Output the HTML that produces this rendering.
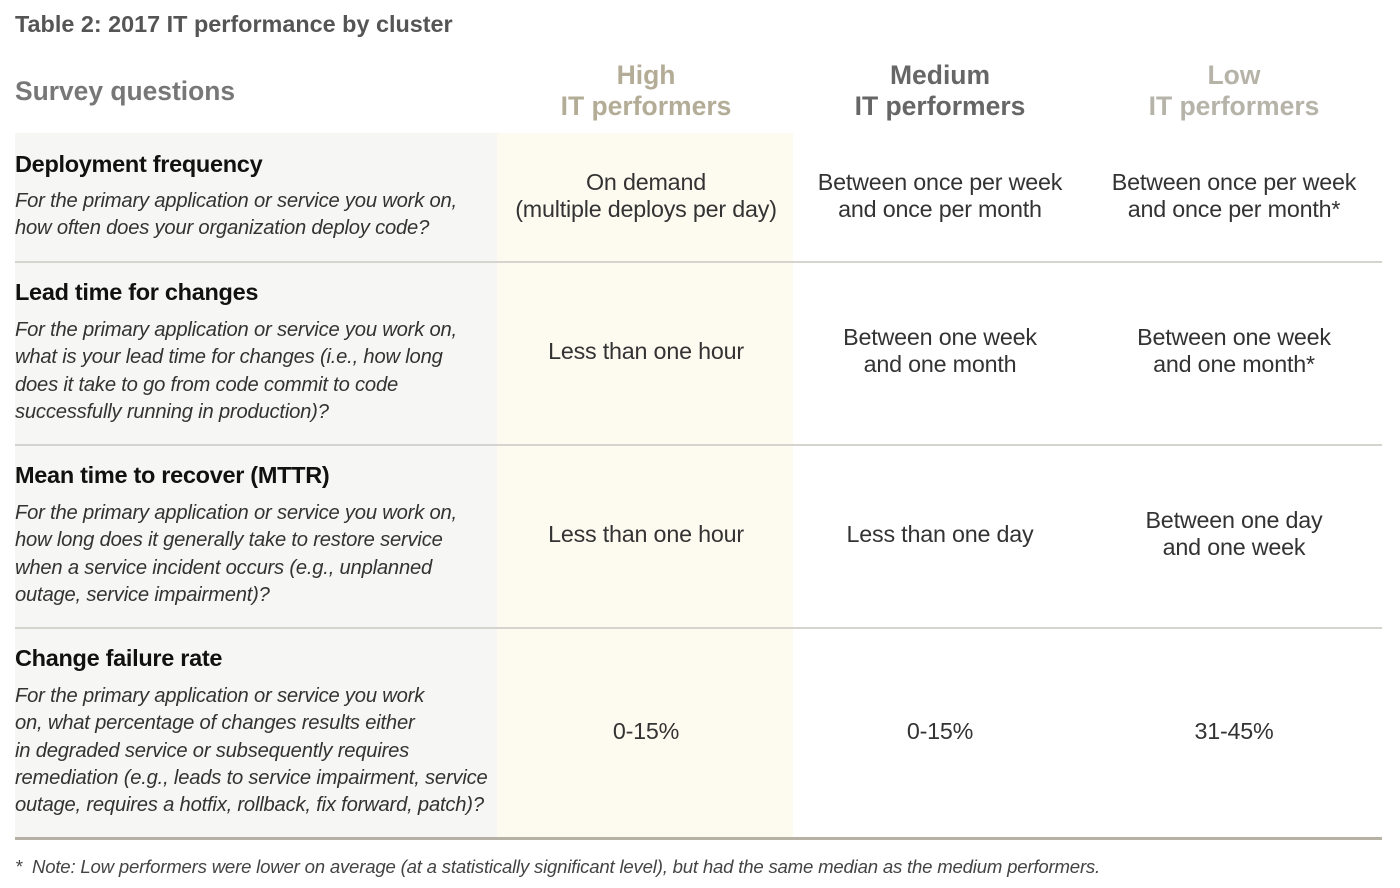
<!DOCTYPE html>
<html><head><meta charset="utf-8"><style>
body{margin:0;width:1400px;height:888px;background:#fff;font-family:"Liberation Sans",sans-serif;position:relative;overflow:hidden}
.a{position:absolute}
.t{left:15px;font-size:23.5px;font-weight:bold;color:#111;white-space:nowrap;letter-spacing:-0.3px}
.q{left:15px;font-size:20.2px;font-style:italic;color:#333;line-height:27.3px;white-space:nowrap;letter-spacing:-0.2px}
.v{font-size:23.3px;color:#333;line-height:27px;text-align:center;width:296px;white-space:nowrap;letter-spacing:-0.2px}
.h{font-size:26.5px;font-weight:bold;line-height:31px;text-align:center;width:296px;top:60px}
.sep{left:15px;width:1367px;height:2px;background:#d6d4cf}
</style></head><body>
<div class="a" style="left:15px;top:11px;font-size:23.4px;font-weight:bold;color:#555">Table 2: 2017 IT performance by cluster</div>
<div class="a" style="left:15px;top:76px;font-size:26.4px;font-weight:bold;color:#777">Survey questions</div>
<div class="a h" style="left:498px;color:#b3ac96">High<br>IT performers</div>
<div class="a h" style="left:792px;color:#666">Medium<br>IT performers</div>
<div class="a h" style="left:1086px;color:#b6b3a9">Low<br>IT performers</div>
<div class="a" style="left:15px;top:133px;width:482px;height:705px;background:#f6f6f4"></div>
<div class="a" style="left:497px;top:133px;width:296px;height:705px;background:#fdfbf0"></div>
<div class="a sep" style="top:261px"></div>
<div class="a sep" style="top:444px"></div>
<div class="a sep" style="top:627px"></div>
<div class="a" style="left:15px;top:837px;width:1367px;height:3px;background:#b5b1a5"></div>

<div class="a t" style="top:151px">Deployment frequency</div>
<div class="a q" style="top:188px">For the primary application or service you work on,<br>how often does your organization deploy code?</div>
<div class="a v" style="left:498px;top:169px">On demand<br>(multiple deploys per day)</div>
<div class="a v" style="left:792px;top:169px">Between once per week<br>and once per month</div>
<div class="a v" style="left:1086px;top:169px">Between once per week<br>and once per month*</div>

<div class="a t" style="top:279px">Lead time for changes</div>
<div class="a q" style="top:317px">For the primary application or service you work on,<br>what is your lead time for changes (i.e., how long<br>does it take to go from code commit to code<br>successfully running in production)?</div>
<div class="a v" style="left:498px;top:338px">Less than one hour</div>
<div class="a v" style="left:792px;top:324px">Between one week<br>and one month</div>
<div class="a v" style="left:1086px;top:324px">Between one week<br>and one month*</div>

<div class="a t" style="top:462px">Mean time to recover (MTTR)</div>
<div class="a q" style="top:500px">For the primary application or service you work on,<br>how long does it generally take to restore service<br>when a service incident occurs (e.g., unplanned<br>outage, service impairment)?</div>
<div class="a v" style="left:498px;top:521px">Less than one hour</div>
<div class="a v" style="left:792px;top:521px">Less than one day</div>
<div class="a v" style="left:1086px;top:507px">Between one day<br>and one week</div>

<div class="a t" style="top:645px">Change failure rate</div>
<div class="a q" style="top:683px">For the primary application or service you work<br>on, what percentage of changes results either<br>in degraded service or subsequently requires<br>remediation (e.g., leads to service impairment, service<br>outage, requires a hotfix, rollback, fix forward, patch)?</div>
<div class="a v" style="left:498px;top:718px">0-15%</div>
<div class="a v" style="left:792px;top:718px">0-15%</div>
<div class="a v" style="left:1086px;top:718px">31-45%</div>

<div class="a" style="left:15px;top:856px;font-size:18.6px;font-style:italic;color:#444;white-space:nowrap;letter-spacing:-0.2px">*&nbsp; Note: Low performers were lower on average (at a statistically significant level), but had the same median as the medium performers.</div>
</body></html>
